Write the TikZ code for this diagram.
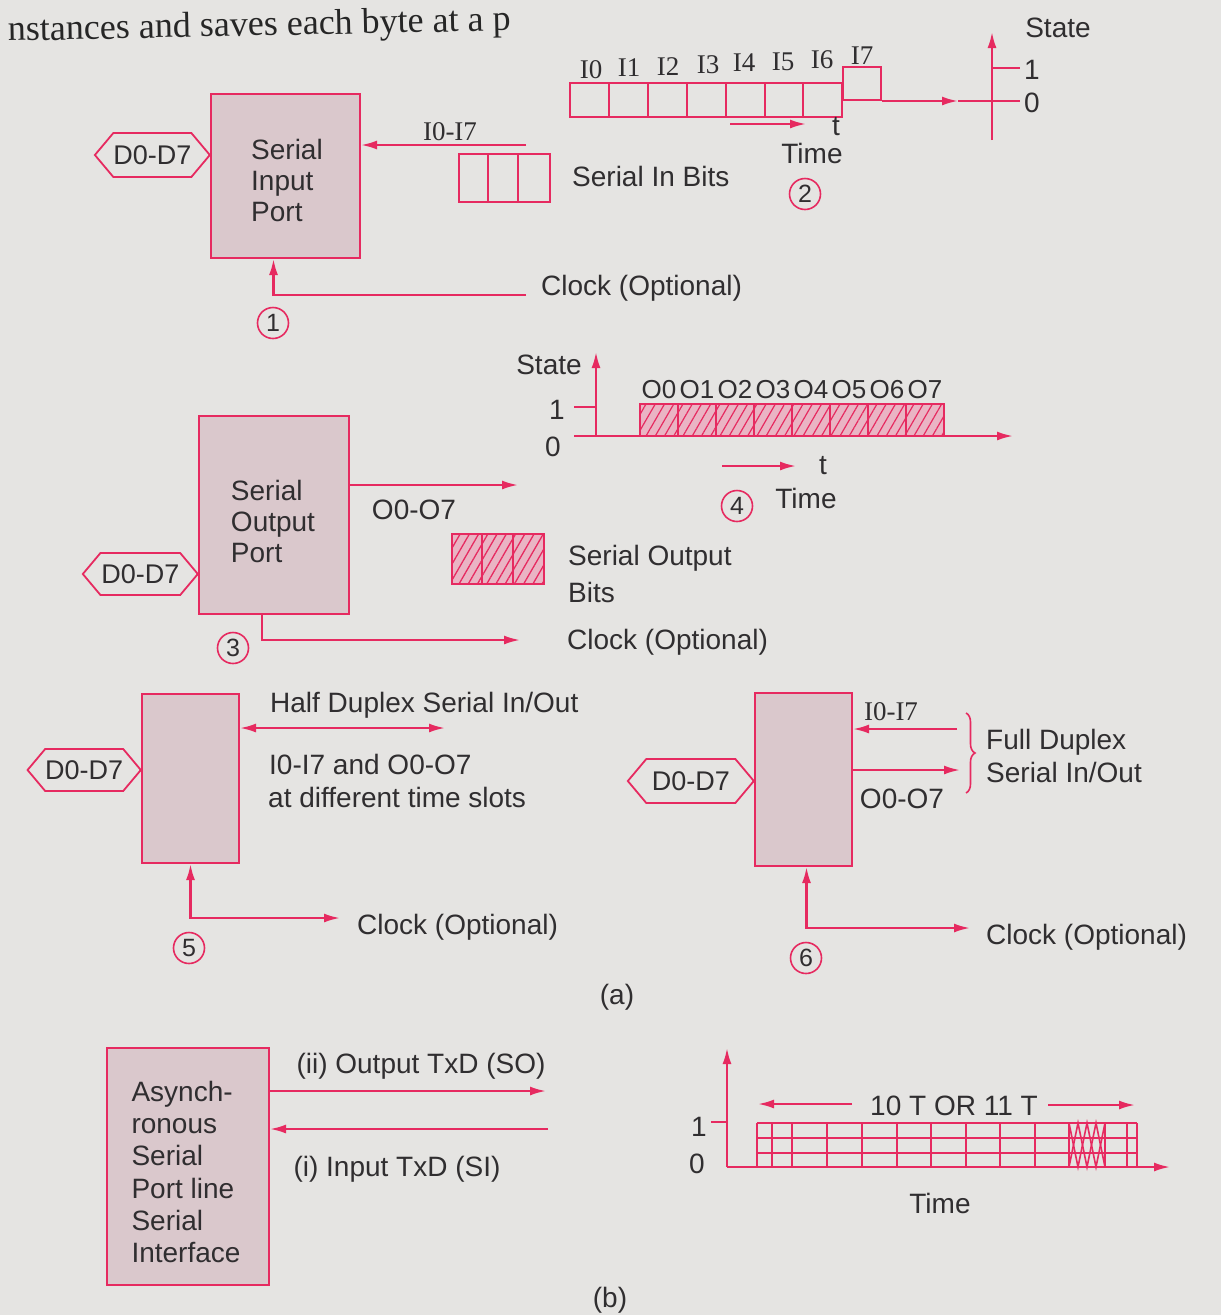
\documentclass[tikz,border=0pt]{standalone}
\usepackage{fontspec}
\setmainfont{Liberation Sans}
\newfontfamily\serf{Liberation Serif}
\usetikzlibrary{arrows.meta,shapes.symbols,patterns.meta,calc,decorations.pathreplacing}
\definecolor{pk}{RGB}{230,42,96}
\definecolor{paper}{RGB}{229,228,226}
\definecolor{boxfill}{RGB}{218,200,204}
\definecolor{hatchfill}{RGB}{234,180,196}
\definecolor{ink}{RGB}{48,46,48}
\begin{document}
\begin{tikzpicture}[x=1pt,y=-1pt,
  every node/.style={text=ink,font=\fontsize{28}{31}\selectfont,inner sep=0pt},
  port/.style={draw=pk,line width=2pt,fill=boxfill,anchor=north west},
  wire/.style={draw=pk,line width=2.2pt},
  thin/.style={draw=pk,line width=1.6pt},
  tip/.style={-{Latex[length=16pt,width=9pt]}},
  tipboth/.style={{Latex[length=16pt,width=9pt]}-{Latex[length=16pt,width=9pt]}},
  hexa/.style={signal,signal to=east and west,signal pointer angle=100,draw=pk,line width=1.8pt,inner xsep=0pt,inner ysep=0pt,anchor=east,font=\fontsize{27}{30}\selectfont},
  num/.style={circle,draw=pk,line width=1.6pt,minimum size=31pt,font=\fontsize{25}{28}\selectfont},
  sl/.style={font=\serf\fontsize{27}{30}\selectfont},
  txt/.style={anchor=west},
  blk/.style={align=left,font=\fontsize{28}{31}\selectfont},
  hatch/.style={fill=hatchfill,postaction={pattern={Lines[angle=60,distance=8pt,line width=1.3pt]},pattern color=pk}}
]
\fill[paper] (0,0) rectangle (1221,1315);
\useasboundingbox (0,0) rectangle (1221,1315);

% header line of book text
\node[font=\serf\fontsize{36}{38}\selectfont,anchor=base west,rotate=1.2,text=black!85] (hdr) at (8,41) {nstances and saves each byte at a p};

% ===== (1) Serial input port =====
\node[port,minimum width=149pt,minimum height=164pt] (b1) at (210,93) {};
\node[blk] (t1) at (287,180) {Serial\\Input\\Port};
\node[hexa,minimum width=108pt,minimum height=44pt] (h1) at (211,155) {D0-D7};
\coordinate (i1s) at (526,145);
\draw[wire,tip] (i1s) -- (i1s -| b1.east);
\node[sl] (l1) at (450,132) {I0-I7};
\node[draw=pk,line width=1.8pt,minimum width=91pt,minimum height=48pt,anchor=north west] (sb1) at (458,153) {};
\draw[thin] ($(sb1.north west)+(30,0)$) -- ($(sb1.south west)+(30,0)$);
\draw[thin] ($(sb1.north west)+(60,0)$) -- ($(sb1.south west)+(60,0)$);
\node[txt] (sib) at (572,176) {Serial In Bits};
\coordinate (c1) at (526,295);
\draw[wire,tip] (c1) -| ($(b1.south)+(-12,0)$);
\node[txt] (ck1) at (541,288) {Clock (Optional)};
\node[num] (n1) at (273,323) {1};

% ===== (2) serial in timing =====
\foreach \k in {0,...,6}{
  \draw[wire,line width=2pt] ({570+38.9*\k},83) rectangle ({570+38.9*(\k+1)},117);
}
\node[draw=pk,line width=2pt,minimum width=38pt,minimum height=33pt,anchor=south west] (i7b) at (842,101) {};
\coordinate (ar2) at (958,101);
\draw[wire,tip] (i7b.south east) -- (ar2);
\draw[wire] (ar2) -- (1020,101);
\draw[wire,tip] (992,140) -- (992,32);
\draw[wire] (992,68) -- (1020,68);
\node[txt] (s1b) at (1024,70) {1};
\node[txt] (s0b) at (1024,103) {0};
\node (st2) at (1058,28) {State};
\foreach \lab/\xx/\yy in {I0/591/70,I1/629/68,I2/668/67,I3/708/65,I4/744/63,I5/783/62,I6/822/60,I7/862/56}{
  \node[sl] at (\xx,\yy) {\lab};
}
\coordinate (t2a) at (730,124);
\coordinate (t2b) at (806,124);
\draw[wire,tip] (t2a) -- (t2b);
\node (tt2) at (836,127) {t};
\node (tm2) at (812,153) {Time};
\node[num] (n2) at (805,194) {2};

% ===== (3) Serial output port =====
\node[port,minimum width=150pt,minimum height=198pt] (b3) at (198,415) {};
\node[blk] (t3) at (273,521) {Serial\\Output\\Port};
\node[hexa,minimum width=115pt,minimum height=42pt] (h3) at (199,574) {D0-D7};
\coordinate (o3) at (518,485);
\draw[wire,tip] (o3 -| b3.east) -- (o3);
\node (l3) at (414,510) {O0-O7};
\node[draw=pk,line width=1.8pt,hatch,minimum width=92pt,minimum height=50pt,anchor=north west] (sb3) at (451,533) {};
\draw[thin] ($(sb3.north west)+(31,0)$) -- ($(sb3.south west)+(31,0)$);
\draw[thin] ($(sb3.north west)+(62,0)$) -- ($(sb3.south west)+(62,0)$);
\node[txt] (sob) at (568,558) {Serial Output};
\node[txt] (sob2) at (568,592) {Bits};
\coordinate (c3) at (520,640);
\draw[wire,tip] ($(b3.south)+(-12,0)$) |- (c3);
\node[txt] (ck3) at (567,642) {Clock (Optional)};
\node[num] (n3) at (233,648) {3};

% ===== (4) serial out timing =====
\draw[wire,tip] (596,436) -- (596,352);
\draw[wire,tip] (574,436) -- (1013,436);
\draw[wire] (574,407) -- (596,407);
\node (st4) at (549,365) {State};
\node (one4) at (557,410) {1};
\node (zero4) at (553,447) {0};
\fill[hatchfill] (640,404) rectangle (944,436);
\path[pattern={Lines[angle=60,distance=8pt,line width=1.2pt]},pattern color=pk] (640,404) rectangle (944,436);
\foreach \k in {0,...,7}{
  \draw[thin,line width=1.8pt] ({640+38*\k},404) rectangle ({640+38*(\k+1)},436);
  \node[font=\fontsize{26}{28}\selectfont] at ({659+38*\k},390) {O\k};
}
\coordinate (t4a) at (722,466);
\coordinate (t4b) at (796,466);
\draw[wire,tip] (t4a) -- (t4b);
\node (tt4) at (823,466) {t};
\node (tm4) at (806,498) {Time};
\node[num] (n4) at (737,506) {4};

% ===== (5) half duplex =====
\node[port,minimum width=97pt,minimum height=169pt] (b5) at (141,693) {};
\node[hexa,minimum width=113pt,minimum height=42pt] (h5) at (142,770) {D0-D7};
\coordinate (d5) at (445,728);
\draw[wire,tipboth] (d5 -| b5.east) -- (d5);
\node[txt] (hd5) at (270,705) {Half Duplex Serial In/Out};
\node[txt] (hd5b) at (269,764) {I0-I7 and O0-O7};
\node[txt] (hd5c) at (268,797) {at different time slots};
\coordinate (c5) at (340,918);
\draw[wire,tipboth] (b5.south) |- (c5);
\node[txt] (ck5) at (357,927) {Clock (Optional)};
\node[num] (n5) at (189,948) {5};

% ===== (6) full duplex =====
\node[port,minimum width=97pt,minimum height=173pt] (b6) at (754,692) {};
\node[hexa,minimum width=126pt,minimum height=44pt] (h6) at (755,781) {D0-D7};
\coordinate (i6) at (957,729);
\draw[wire,tip] (i6) -- (i6 -| b6.east);
\node[sl] (l6) at (891,712) {I0-I7};
\coordinate (o6) at (960,770);
\draw[wire,tip] (o6 -| b6.east) -- (o6);
\node (l6b) at (902,799) {O0-O7};
\coordinate (br1) at (966,713);
\coordinate (br2) at (966,793);
\draw[thin,decorate,decoration={brace,amplitude=9pt}] (br1) -- (br2);
\node[txt] (fd6) at (986,742) {Full Duplex};
\node[txt] (fd6b) at (986,772) {Serial In/Out};
\coordinate (c6) at (970,928);
\draw[wire,tipboth] ($(b6.south)+(3,0)$) |- (c6);
\node[txt] (ck6) at (986,937) {Clock (Optional)};
\node[num] (n6) at (806,958) {6};

\node (capa) at (617,997) {(a)};

% ===== (b) asynchronous =====
\node[port,minimum width=162pt,minimum height=237pt] (bb) at (106,1047) {};
\node[align=left,font=\fontsize{28}{32.2}\selectfont] (tb) at (186,1172) {Asynch-\\ronous\\Serial\\Port line\\Serial\\Interface};
\coordinate (ob) at (546,1091);
\draw[wire,tip] (ob -| bb.east) -- (ob);
\coordinate (ib) at (548,1129);
\draw[wire,tip] (ib) -- (ib -| bb.east);
\node (lob) at (421,1066) {(ii) Output TxD (SO)};
\node (lib) at (397,1169) {(i) Input TxD (SI)};

% timing (b)
\draw[wire,tip] (727,1167) -- (727,1048);
\draw[wire,tip] (727,1167) -- (1170,1167);
\draw[wire] (711,1122) -- (727,1122);
\node (oneb) at (699,1127) {1};
\node (zerob) at (697,1164) {0};
\foreach \yy in {1123,1138,1153}{
  \draw[thin] (757,\yy) -- (1137,\yy);
}
\foreach \xx in {757,772,792,827,862,897,931,966,1000,1035,1069,1105,1127,1137}{
  \draw[thin] (\xx,1123) -- (\xx,1167);
}
\draw[thin] (1069,1123) -- (1078,1167) -- (1087,1123) -- (1096,1167) -- (1105,1123);
\draw[thin] (1069,1167) -- (1078,1123) -- (1087,1167) -- (1096,1123) -- (1105,1167);
\node (tor) at (954,1106) {10 T OR 11 T};
\coordinate (ta1) at (852,1104);
\coordinate (ta2) at (758,1104);
\coordinate (ta3) at (1048,1105);
\coordinate (ta4) at (1135,1105);
\draw[wire,tip] (ta1) -- (ta2);
\draw[wire,tip] (ta3) -- (ta4);
\node (tmb) at (940,1203) {Time};

\node (capb) at (610,1300) {(b)};
\end{tikzpicture}
\end{document}
